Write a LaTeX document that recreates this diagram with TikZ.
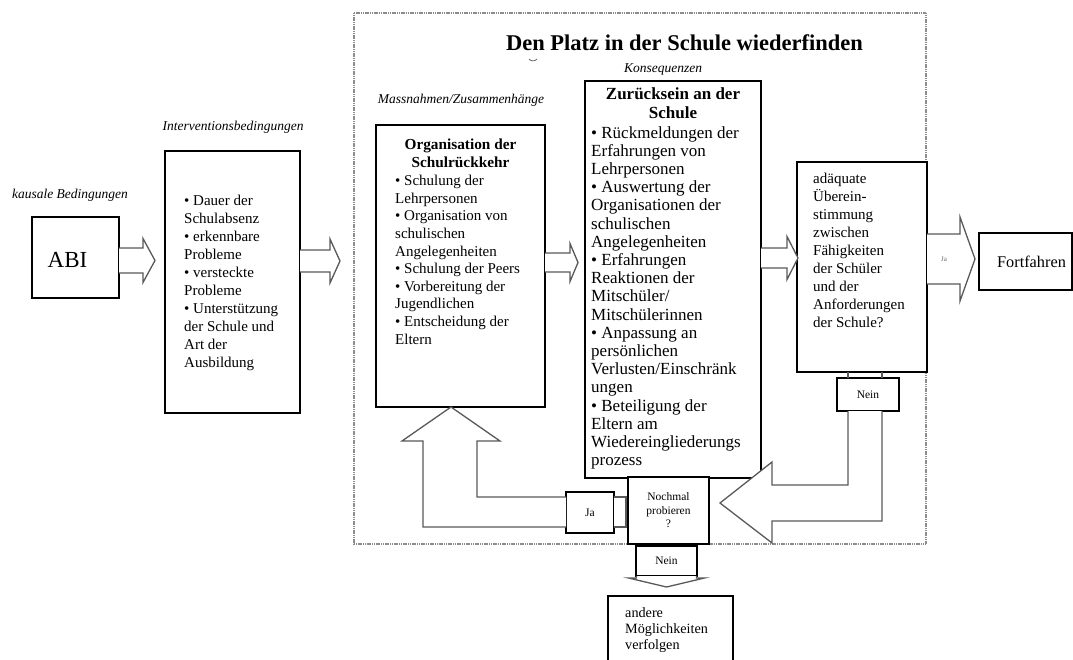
\documentclass[tikz,border=0pt]{standalone}
\usepackage{fontspec}
\setmainfont{Liberation Serif}
\usetikzlibrary{calc}

% hollow block arrow: start, length, shaft half height, head half height, head length
\newcommand{\fatarrow}[5]{%
  \draw[hollow] (#1) ++(0,-#3) -- ++(#2-#5,0) -- ++(0,#3-#4) -- ++(#5,#4)
    -- ++(-#5,#4) -- ++(0,#3-#4) -- ++(#5-#2,0);}

\begin{document}
\begin{tikzpicture}[x=1pt,y=-1pt,
    box/.style={draw, line width=1.6pt, fill=white, anchor=north west, outer sep=0pt, inner sep=0pt},
    body/.style={anchor=north west, align=left, inner sep=0pt, font=\fontsize{15}{18}\selectfont},
    head/.style={anchor=north, align=center, inner sep=0pt, font=\fontsize{15.3}{18}\selectfont\bfseries},
    lbl/.style={font=\fontsize{13.5}{16}\selectfont\itshape},
    small/.style={font=\fontsize{11.5}{13.5}\selectfont, align=center},
    hollow/.style={draw=black!65, line width=1.3pt, fill=white, line join=miter},
    frame/.style={draw=black!45, line width=1.3pt, dash pattern=on 1.2pt off 0.6pt}]
    \useasboundingbox (0,0) rectangle (1073,659);
    \clip (0,0) rectangle (1073,659);

    % dotted frame and title
    \draw[frame] (354,13) rectangle (926,544);
    \node[font=\fontsize{22.5}{26}\selectfont\bfseries] (platz) at (684.5,43) {Den Platz in der Schule wiederfinden};
    \draw[black!60, line width=0.8pt] (529,59) .. controls (531,61.5) and (535,61.5) .. (537,59);

    % category labels
    \node[lbl] (kausal) at (70,195) {kausale Bedingungen};
    \node[lbl] (interv) at (233,127) {Interventionsbedingungen};
    \node[lbl] (massn) at (461,100) {Massnahmen/Zusammenhänge};
    \node[lbl] (konseq) at (663,70) {Konsequenzen};

    % boxes
    \node[box, minimum width=87, minimum height=81] (abi) at (32,217) {};
    \node[font=\fontsize{23}{26}\selectfont] (abitext) at ($(abi.center)+(-8,2)$) {ABI};

    \node[box, minimum width=135, minimum height=262] (int) at (165,151) {};
    \node[body] (inttext) at ($(int.north west)+(19,44)$)
      {• Dauer der\\Schulabsenz\\• erkennbare\\Probleme\\• versteckte\\Probleme\\• Unterstützung\\der Schule und\\Art der\\Ausbildung};

    \node[box, minimum width=169, minimum height=282] (org) at (376,125) {};
    \node[head] (orgtitle) at ($(org.north)+(0,14)$) {Organisation der\\Schulrückkehr};
    \node[body, font=\fontsize{15}{17.6}\selectfont] (orgtext) at ($(org.north west)+(19,50)$)
      {• Schulung der\\Lehrpersonen\\• Organisation von\\schulischen\\Angelegenheiten\\• Schulung der Peers\\• Vorbereitung der\\Jugendlichen\\• Entscheidung der\\Eltern};

    \node[box, minimum width=176, minimum height=397] (zur) at (585,81) {};
    \node[head, font=\fontsize{17}{19}\selectfont\bfseries] (zurtitle) at ($(zur.north)+(0,7)$) {Zurücksein an der\\Schule};
    \node[body, font=\fontsize{17}{18.2}\selectfont] (zurtext) at ($(zur.north west)+(6,45)$)
      {• Rückmeldungen der\\Erfahrungen von\\Lehrpersonen\\• Auswertung der\\Organisationen der\\schulischen\\Angelegenheiten\\• Erfahrungen\\Reaktionen der\\Mitschüler/\\Mitschülerinnen\\• Anpassung an\\persönlichen\\Verlusten/Einschränk\\ungen\\• Beteiligung der\\Eltern am\\Wiedereingliederungs\\prozess};

    \node[box, minimum width=130, minimum height=210] (ada) at (797,162) {};
    \node[body] (adatext) at ($(ada.north west)+(16,11)$)
      {adäquate\\Überein-\\stimmung\\zwischen\\Fähigkeiten\\der Schüler\\und der\\Anforderungen\\der Schule?};

    \node[box, minimum width=93, minimum height=57] (fort) at (979,233) {};
    \node[font=\fontsize{16.3}{19}\selectfont] (forttext) at ($(fort.center)+(6,0)$) {Fortfahren};

    % arrows along the main row
    \fatarrow{$(abi.east)+(0,3)$}{36}{12.5}{22}{12}
    \fatarrow{$(int.east)+(0,-21)$}{40}{11}{22}{10}
    \fatarrow{$(org.east)+(0,-3.5)$}{33}{9.5}{19}{8}
    \fatarrow{$(zur.east)+(0,-21.5)$}{37}{10}{21.5}{11}
    \fatarrow{$(ada.east)+(0,-8)$}{48}{25}{42}{15}
    \node[font=\fontsize{7}{8}\selectfont, text=black!60] (jaarrow) at ($(ada.east)+(17,-8)$) {Ja};

    % Nein branch back to the retry box
    \node[box, minimum width=62, minimum height=33] (nein1) at (837,378) {};
    \node[small] (nein1text) at (nein1.center) {Nein};
    \draw[hollow] ([xshift=-20pt]nein1.north) -- ++(0,-6);
    \draw[hollow] ([xshift=14pt]nein1.north) -- ++(0,-6);
    \draw[hollow] (nein1.south) ++(-20,0) -- ++(0,74) -- ++(-76,0) -- ++(0,-23) -- ++(-52,41)
      -- ++(52,40) -- ++(0,-22) -- ++(110,0) -- ++(0,-110);

    \node[box, minimum width=81, minimum height=67] (noch) at (628,477) {};
    \node[small] (nochtext) at (noch.center) {Nochmal\\probieren\\?};

    % Ja back up to the organisation
    \node[box, minimum width=48, minimum height=41] (jabox) at (566,492) {};
    \node[small] (jatext) at (jabox.center) {Ja};
    \draw[hollow] (jabox.east) ++(0,-15.5) -- ++(12,0) -- ++(0,30) -- ++(-12,0);
    \draw[hollow] (jabox.west) ++(0,14.5) -- ++(-143,0) -- ++(0,-86) -- ++(-21,0) -- ++(49,-34)
      -- ++(49,34) -- ++(-23,0) -- ++(0,56) -- ++(89,0);

    % Nein down to other options
    \node[box, minimum width=61, minimum height=30] (nein2) at (636,546) {};
    \node[small] (nein2text) at (nein2.center) {Nein};
    \draw[hollow] (nein2.south) ++(-30,0) -- ++(0,2) -- ++(-8,0) -- ++(38,9) -- ++(38,-9) -- ++(-8,0) -- ++(0,-2);

    \node[box, minimum width=125, minimum height=80] (andere) at (608,596) {};
    \node[body, font=\fontsize{14.2}{16}\selectfont] (anderetext) at ($(andere.north west)+(17,11)$)
      {andere\\Möglichkeiten\\verfolgen};
\end{tikzpicture}
\end{document}
